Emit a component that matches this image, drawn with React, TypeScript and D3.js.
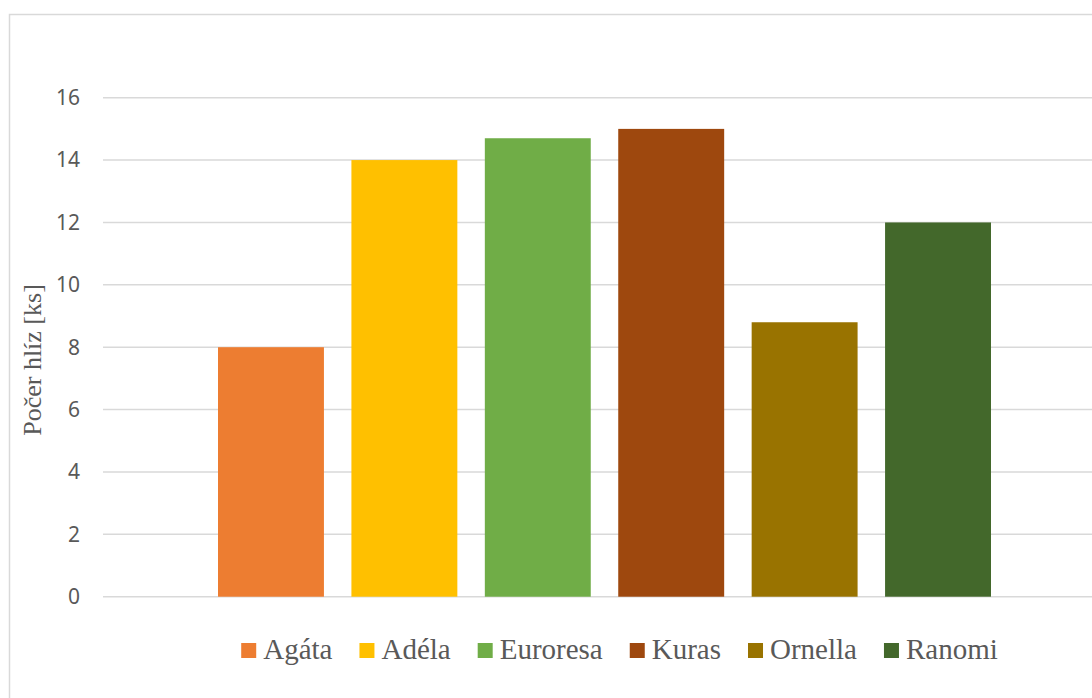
import React from "react";
import * as d3 from "d3";

const series = ["Agáta", "Adéla", "Euroresa", "Kuras", "Ornella", "Ranomi"];
const values = [8, 14, 14.7, 15, 8.8, 12];
const colors = ["#ED7D31", "#FFC000", "#70AD47", "#9E480E", "#997300", "#43682B"];
const yTicks = [0, 2, 4, 6, 8, 10, 12, 14, 16];
const yTitle = "Počer hlíz [ks]";

const W = 1092;
const H = 698;
const legendFont = "29px 'Liberation Serif'";

function measure(text: string, font: string): number {
  const c = document.createElement("canvas");
  const ctx = c.getContext("2d")!;
  ctx.font = font;
  return ctx.measureText(text).width;
}

export default function App() {
  const y = d3.scaleLinear().domain([0, 18]).range([596.7, 596.7 - 9 * 62.375]);
  const x = d3
    .scaleBand<string>()
    .domain(series)
    .range([103, 1106])
    .paddingInner(0.206)
    .paddingOuter(0.862);

  const sq = 15;
  const sqGap = 7;
  const itemGap = 27;
  const widths = series.map((s) => measure(s, legendFont));
  const total =
    widths.reduce((a, w) => a + sq + sqGap + w, 0) + itemGap * (series.length - 1);
  let cx = 619.5 - total / 2;
  const legendItems = series.map((s, i) => {
    const item = { s, i, x: cx };
    cx += sq + sqGap + widths[i] + itemGap;
    return item;
  });

  return (
    <svg
      width={W}
      height={H}
      style={{ position: "absolute", left: 0, top: 0, background: "#fff" }}
    >
      <rect x={9.5} y={14.5} width={W + 20} height={H + 20} fill="#fff" stroke="#d9d9d9" strokeWidth={1.5} />
      {yTicks.map((t) => (
        <g key={t}>
          <line x1={103} x2={W + 10} y1={y(t)} y2={y(t)} stroke="#d9d9d9" strokeWidth={1.5} />
          <text
            x={80}
            y={y(t)}
            dy="0.35em"
            textAnchor="end"
            fontFamily="'Noto Sans', sans-serif"
            fontSize={21}
            fill="#595959"
          >
            {t}
          </text>
        </g>
      ))}
      {series.map((s, i) => (
        <rect
          key={s}
          x={x(s)}
          y={y(values[i])}
          width={x.bandwidth()}
          height={y(0) - y(values[i])}
          fill={colors[i]}
        />
      ))}
      <text
        transform={`translate(41,360) rotate(-90)`}
        textAnchor="middle"
        fontFamily="'Liberation Serif', serif"
        fontSize={26}
        fill="#595959"
      >
        {yTitle}
      </text>
      {legendItems.map(({ s, i, x: lx }) => (
        <g key={s}>
          <rect x={lx} y={643} width={sq} height={sq} fill={colors[i]} />
          <text
            x={lx + sq + sqGap}
            y={659}
            fontFamily="'Liberation Serif', serif"
            fontSize={29}
            fill="#595959"
          >
            {s}
          </text>
        </g>
      ))}
    </svg>
  );
}
